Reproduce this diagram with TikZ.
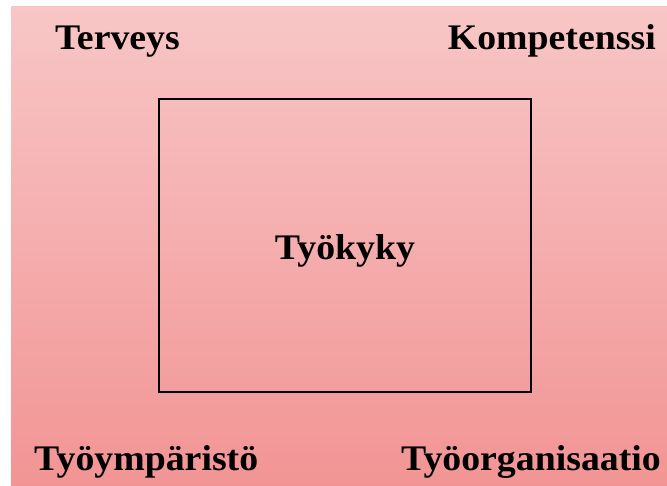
\documentclass[tikz,border=0pt]{standalone}
\usepackage{fontspec}
\setmainfont[FakeStretch=1.05]{Liberation Serif}
\definecolor{pinktop}{RGB}{248,198,198}
\definecolor{pinkbottom}{RGB}{242,148,148}
\begin{document}
\begin{tikzpicture}[x=1pt,y=-1pt,
  lbl/.style={inner sep=0pt,font=\fontsize{36}{40}\selectfont\bfseries,text=black},
  frame/.style={draw=black,line width=1.5pt}]
  % page area and shaded panel
  \fill[white] (0,0) rectangle (667,486);
  \useasboundingbox (0,0) rectangle (667,486);
  \shade[top color=pinktop,bottom color=pinkbottom] (11,7) rectangle (667,486);
  % central frame
  \node[frame,minimum width=372pt,minimum height=293pt,inner sep=0pt] (box) at (345,245.5) {};
  % labels
  \node[lbl,anchor=base] (tk) at (345,260) {Työkyky};
  \node[lbl,anchor=base west] (ter) at (55,50) {Terveys};
  \node[lbl,anchor=base east] (komp) at (656,50) {Kompetenssi};
  \node[lbl,anchor=base west] (ymp) at (34,470) {Työympäristö};
  \node[lbl,anchor=base east] (org) at (661,470) {Työorganisaatio};
\end{tikzpicture}
\end{document}
